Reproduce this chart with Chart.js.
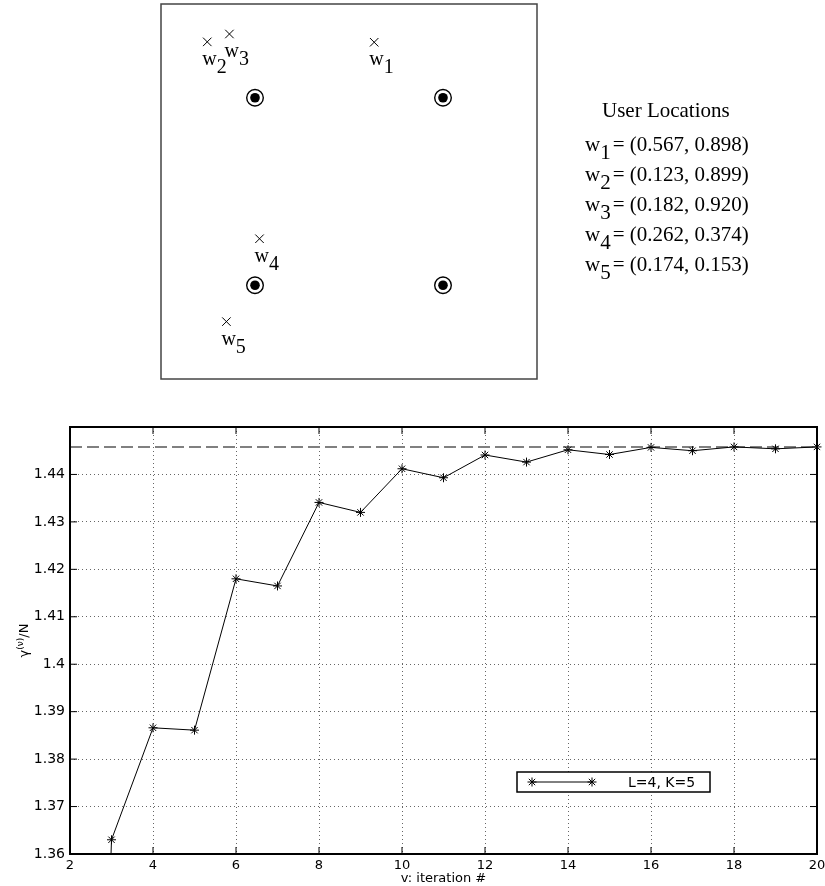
<!DOCTYPE html>
<html>
<head>
<meta charset="utf-8">
<title>User locations and convergence</title>
<script src="https://cdn.jsdelivr.net/npm/chart.js@4.4.1/dist/chart.umd.min.js"></script>
<style>
body { margin: 0; background: #fff; }
#wrap { position: relative; width: 825px; height: 886px; }
#layout { position: absolute; left: 0; top: 0; }
#convergence { position: absolute; left: 0; top: 400px; }
</style>
</head>
<body>
<div id="wrap">
<canvas id="layout" width="825" height="390"></canvas>
<canvas id="convergence" width="825" height="486"></canvas>
</div>
<script>
// user and base station positions in the unit square
const userX = [0.567, 0.123, 0.182, 0.262, 0.174];
const userY = [0.898, 0.899, 0.920, 0.374, 0.153];
const stationX = [0.25, 0.75, 0.25, 0.75];
const stationY = [0.75, 0.75, 0.25, 0.25];

// gamma^(v)/N per iteration
const iterations = [2, 3, 4, 5, 6, 7, 8, 9, 10, 11, 12, 13, 14, 15, 16, 17, 18, 19, 20];
const gammaPerN = [1.10, 1.3630, 1.3866, 1.3861, 1.4180, 1.4165, 1.4341, 1.4320, 1.4412, 1.4393,
                   1.4441, 1.4426, 1.4452, 1.4442, 1.4457, 1.4450, 1.4458, 1.4454, 1.4458];
const upperBound = 1.4458;
const seriesLabel = "L=4, K=5";

Chart.defaults.font.family = "'DejaVu Sans', sans-serif";
Chart.defaults.font.size = 13;
Chart.defaults.color = "#000";

const serif = "'Liberation Serif', 'Times New Roman', serif";

// Function to draw a subscripted name like w_1
function drawSub(ctx, base, sub, x, y, size) {
    ctx.font = `${size}px ${serif}`;
    ctx.fillText(base, x, y);
    const w = ctx.measureText(base).width;
    ctx.fillText(sub, x + w, y + 8);
    return x + w + ctx.measureText(sub).width;
}

const layoutDecor = {
    id: "layoutDecor",
    afterDraw(chart) {
        const { ctx, chartArea: a, scales } = chart;
        ctx.save();
        ctx.strokeStyle = "#444";
        ctx.lineWidth = 1.5;
        ctx.strokeRect(a.left, a.top, a.right - a.left, a.bottom - a.top);

        ctx.fillStyle = "#000";
        ctx.textAlign = "left";
        ctx.textBaseline = "alphabetic";
        userX.forEach((ux, i) => {
            const px = scales.x.getPixelForValue(ux);
            const py = scales.y.getPixelForValue(userY[i]);
            drawSub(ctx, "w", String(i + 1), px - 5, py + 23, 20);
        });

        // location list on the right
        ctx.font = `21px ${serif}`;
        ctx.fillText("User Locations", 602, 117);
        userX.forEach((ux, i) => {
            const y = 151 + i * 30;
            const x = drawSub(ctx, "w", String(i + 1), 585, y, 21);
            ctx.font = `21px ${serif}`;
            ctx.fillText(`= (${ux.toFixed(3)}, ${userY[i].toFixed(3)})`, x + 2, y);
        });
        ctx.restore();
    }
};

new Chart(document.getElementById("layout"), {
    type: "scatter",
    data: {
        datasets: [
            {
                label: "Users",
                data: userX.map((x, i) => ({ x, y: userY[i] })),
                pointStyle: "crossRot",
                pointRadius: 6,
                borderColor: "#000",
                borderWidth: 1,
                clip: false
            },
            {
                label: "Base stations",
                data: stationX.map((x, i) => ({ x, y: stationY[i] })),
                pointStyle: "circle",
                pointRadius: 8.3,
                backgroundColor: "rgba(0,0,0,0)",
                borderColor: "#000",
                borderWidth: 1.4,
                clip: false
            },
            {
                label: "Base station centres",
                data: stationX.map((x, i) => ({ x, y: stationY[i] })),
                pointStyle: "circle",
                pointRadius: 4.8,
                backgroundColor: "#000",
                borderWidth: 0,
                clip: false
            }
        ]
    },
    options: {
        responsive: false,
        animation: false,
        events: [],
        layout: { autoPadding: false, padding: { left: 161, top: 4, right: 288, bottom: 11 } },
        plugins: { legend: { display: false }, tooltip: { enabled: false } },
        scales: {
            x: { type: "linear", display: false, min: 0, max: 1 },
            y: { type: "linear", display: false, min: 0, max: 1 }
        }
    },
    plugins: [layoutDecor]
});

// Function to draw a '*' marker
function drawStar(ctx, x, y, r) {
    ctx.beginPath();
    for (let k = 0; k < 4; k++) {
        const ang = k * Math.PI / 4;
        ctx.moveTo(x - Math.cos(ang) * r, y - Math.sin(ang) * r);
        ctx.lineTo(x + Math.cos(ang) * r, y + Math.sin(ang) * r);
    }
    ctx.stroke();
}

const convergenceDecor = {
    id: "convergenceDecor",
    afterDraw(chart) {
        const { ctx, chartArea: a, scales } = chart;
        ctx.save();

        // inward tick marks
        ctx.strokeStyle = "#000";
        ctx.lineWidth = 1;
        ctx.beginPath();
        scales.x.ticks.forEach(t => {
            const px = scales.x.getPixelForValue(t.value);
            ctx.moveTo(px, a.bottom); ctx.lineTo(px, a.bottom - 7);
            ctx.moveTo(px, a.top); ctx.lineTo(px, a.top + 7);
        });
        scales.y.ticks.forEach(t => {
            const py = scales.y.getPixelForValue(t.value);
            ctx.moveTo(a.left, py); ctx.lineTo(a.left + 7, py);
            ctx.moveTo(a.right, py); ctx.lineTo(a.right - 7, py);
        });
        ctx.stroke();

        // axes frame
        ctx.lineWidth = 2;
        ctx.strokeRect(a.left, a.top, a.right - a.left, a.bottom - a.top);

        // legend
        const bx = a.left + 447, by = a.top + 345, bw = 193, bh = 20;
        ctx.fillStyle = "#fff";
        ctx.fillRect(bx, by, bw, bh);
        ctx.lineWidth = 1.5;
        ctx.strokeRect(bx, by, bw, bh);
        ctx.lineWidth = 1;
        ctx.beginPath();
        ctx.moveTo(bx + 15, by + bh / 2);
        ctx.lineTo(bx + 75, by + bh / 2);
        ctx.stroke();
        drawStar(ctx, bx + 15, by + bh / 2, 4.5);
        drawStar(ctx, bx + 75, by + bh / 2, 4.5);
        ctx.fillStyle = "#000";
        ctx.font = "14px 'DejaVu Sans', sans-serif";
        ctx.textAlign = "left";
        ctx.textBaseline = "middle";
        ctx.fillText(seriesLabel, bx + 111, by + bh / 2 + 1);

        // x axis title
        ctx.font = "13px 'DejaVu Sans', sans-serif";
        ctx.textAlign = "center";
        ctx.textBaseline = "alphabetic";
        ctx.fillText("v: iteration #", (a.left + a.right) / 2, 482);

        // y axis title: gamma^(v)/N
        ctx.translate(28, (a.top + a.bottom) / 2);
        ctx.rotate(-Math.PI / 2);
        ctx.textAlign = "left";
        ctx.font = "13px 'DejaVu Sans', sans-serif";
        const g = ctx.measureText("γ").width;
        ctx.font = "9px 'DejaVu Sans', sans-serif";
        const s = ctx.measureText("(ν)").width;
        ctx.font = "13px 'DejaVu Sans', sans-serif";
        const n = ctx.measureText("/N").width;
        let x = -(g + s + n) / 2;
        ctx.fillText("γ", x, 0);
        x += g;
        ctx.font = "9px 'DejaVu Sans', sans-serif";
        ctx.fillText("(ν)", x, -5);
        x += s;
        ctx.font = "13px 'DejaVu Sans', sans-serif";
        ctx.fillText("/N", x, 0);
        ctx.restore();
    }
};

const gridStyle = { color: "rgba(0,0,0,0.6)", lineWidth: 1, drawTicks: false };

new Chart(document.getElementById("convergence"), {
    type: "line",
    data: {
        datasets: [
            {
                label: seriesLabel,
                data: iterations.map((v, i) => ({ x: v, y: gammaPerN[i] })),
                borderColor: "#000",
                borderWidth: 1,
                pointStyle: "star",
                pointRadius: 4.5,
                pointBorderColor: "#000",
                pointBorderWidth: 1,
                tension: 0,
                clip: { left: 0, top: false, right: false, bottom: 0 }
            },
            {
                label: "bound",
                data: [
                    { x: iterations[0], y: upperBound },
                    { x: iterations[iterations.length - 1], y: upperBound }
                ],
                borderColor: "#808080",
                borderWidth: 2,
                borderDash: [12, 5],
                pointRadius: 0
            }
        ]
    },
    options: {
        responsive: false,
        animation: false,
        events: [],
        layout: { autoPadding: false, padding: { left: 0, top: 27, right: 8, bottom: 0 } },
        plugins: { legend: { display: false }, tooltip: { enabled: false } },
        scales: {
            x: {
                type: "linear",
                min: 2,
                max: 20,
                ticks: { stepSize: 2, padding: 4, maxRotation: 0 },
                grid: gridStyle,
                border: { display: false, dash: [1, 3] },
                afterFit: scale => {
                    scale.height = 32;
                    scale.paddingLeft = 0;
                    scale.paddingRight = 0;
                }
            },
            y: {
                type: "linear",
                min: 1.36,
                max: 1.45,
                ticks: {
                    stepSize: 0.01,
                    padding: 5,
                    font: { size: 14 },
                    callback: v => (v > 1.4495 ? "" : String(Math.round(v * 100) / 100))
                },
                grid: gridStyle,
                border: { display: false, dash: [1, 3] },
                afterFit: scale => {
                    scale.width = 70;
                    scale.paddingTop = 0;
                    scale.paddingBottom = 0;
                }
            }
        }
    },
    plugins: [convergenceDecor]
});
</script>
</body>
</html>
